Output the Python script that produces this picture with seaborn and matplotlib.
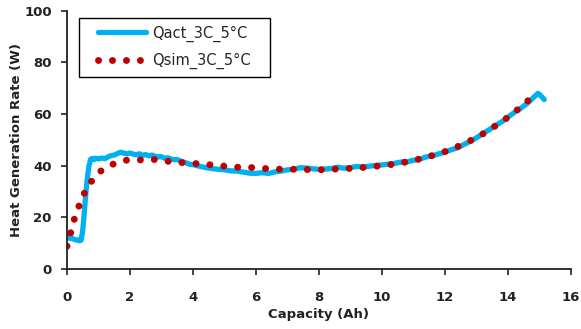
import matplotlib
matplotlib.use("Agg")
import matplotlib.pyplot as plt
from matplotlib.patches import Rectangle
import seaborn as sns
import pandas as pd

# Measured heat generation (Qact_3C_5°C)
cap_act = [0.00, 0.05, 0.10, 0.15, 0.20, 0.25, 0.30, 0.35, 0.40, 0.45, 0.50, 0.55, 0.60, 0.65,
           0.70, 0.75, 0.80, 0.85, 0.90, 1.00, 1.10, 1.20, 1.30, 1.40, 1.50, 1.60, 1.70, 1.80,
           1.90, 2.00, 2.10, 2.20, 2.30, 2.40, 2.50, 2.60, 2.70, 2.80, 2.90, 3.00, 3.10, 3.20,
           3.30, 3.40, 3.50, 3.60, 3.70, 3.80, 3.90, 4.00, 4.20, 4.40, 4.60, 4.80, 5.00, 5.20,
           5.40, 5.60, 5.80, 6.00, 6.20, 6.40, 6.60, 6.80, 7.00, 7.20, 7.40, 7.60, 7.80, 8.00,
           8.20, 8.40, 8.60, 8.80, 9.00, 9.20, 9.40, 9.60, 9.80, 10.00, 10.20, 10.40, 10.60,
           10.80, 11.00, 11.20, 11.40, 11.60, 11.80, 12.00, 12.20, 12.40, 12.60, 12.80, 13.00,
           13.20, 13.40, 13.60, 13.80, 14.00, 14.20, 14.40, 14.60, 14.80, 14.90, 14.95, 15.00,
           15.05, 15.10, 15.15]
q_act = [12.0, 12.3, 11.8, 12.1, 11.6, 11.4, 11.2, 11.3, 10.9, 11.2, 15.0, 22.0, 29.5, 35.5,
         40.0, 42.5, 42.8, 42.3, 42.9, 42.6, 43.0, 42.7, 43.4, 43.9, 44.1, 44.7, 45.2, 44.9,
         44.6, 44.9, 44.5, 44.2, 44.6, 44.0, 44.3, 43.8, 44.1, 43.6, 43.4, 43.5, 42.9, 43.1,
         42.6, 42.3, 42.4, 41.8, 41.4, 41.0, 40.5, 40.4, 39.8, 39.3, 38.9, 38.6, 38.4, 38.0,
         37.9, 37.5, 37.1, 37.0, 37.3, 37.0, 37.6, 37.9, 38.4, 38.6, 39.2, 39.1, 38.8, 38.6,
         38.7, 38.9, 39.4, 39.0, 39.3, 39.7, 39.5, 39.8, 40.1, 40.3, 40.6, 40.9, 41.4, 41.5,
         42.1, 42.5, 43.4, 43.8, 44.6, 45.2, 46.2, 46.9, 48.2, 49.4, 50.8, 52.4, 53.9, 55.5,
         57.0, 58.8, 60.6, 62.2, 64.0, 66.3, 67.4, 68.0, 67.6, 66.9, 66.3, 65.6]

# Simulated heat generation (Qsim_3C_5°C)
cap_sim = [0.00, 0.12, 0.23, 0.38, 0.55, 0.78, 1.07, 1.44, 1.86, 2.28, 2.70, 3.12, 3.55,
           4.00, 4.43, 4.86, 5.28, 5.72, 6.15, 6.58, 7.03, 7.46, 7.90, 8.35, 8.77, 9.22,
           9.65, 10.10, 10.54, 10.97, 11.42, 11.84, 12.24, 12.67, 13.06, 13.43, 13.80,
           14.17, 14.50, 14.85]
q_sim = [8.8, 14.1, 19.2, 24.4, 29.3, 34.0, 37.9, 40.5, 42.1, 42.2, 42.5, 41.8, 41.3,
         40.9, 40.5, 40.0, 39.4, 39.4, 39.0, 38.7, 38.6, 38.6, 38.3, 38.6, 38.8, 39.1,
         39.6, 40.1, 40.9, 41.9, 43.3, 44.8, 46.5, 48.9, 51.2, 54.1, 57.0, 60.3, 63.8, 67.4]

x_ticks = [0, 2, 4, 6, 8, 10, 12, 14, 16]
y_ticks = [0, 20, 40, 60, 80, 100]

sns.set_theme(style="ticks")
plt.rcParams['font.family'] = ['DejaVu Sans']

df_act = pd.DataFrame({"cap": cap_act, "q": q_act})
df_sim = pd.DataFrame({"cap": cap_sim, "q": q_sim})

fig = plt.figure(figsize=(5.81, 3.29), dpi=100)
ax = fig.add_axes([0.1153, 0.1824, 0.8675, 0.785])

sns.lineplot(data=df_act, x="cap", y="q", ax=ax, color="#00B0F0", lw=3.8,
             label="Qact_3C_5°C", sort=False, solid_joinstyle="round")
lw_sim = 5.0
sns.lineplot(data=df_sim, x="cap", y="q", ax=ax, color="#C00000", lw=lw_sim,
             linestyle=(0, (0.01, 2.0)), dash_capstyle="round",
             label="Qsim_3C_5°C", sort=False)

ax.set_xlim(0, 16)
ax.set_ylim(0, 100)
ax.set_xticks(x_ticks)
ax.set_yticks(y_ticks)
ax.tick_params(axis="both", direction="out", length=4, width=1.2, color="#222222",
               labelsize=9.5)
ax.tick_params(axis="x", pad=11.5)
ax.tick_params(axis="y", pad=7)
for lab in ax.get_xticklabels() + ax.get_yticklabels():
    lab.set_fontweight("bold")
    lab.set_color("#222222")
for s in ["top", "right"]:
    ax.spines[s].set_visible(False)
for s in ["left", "bottom"]:
    ax.spines[s].set_linewidth(1.3)
    ax.spines[s].set_color("#222222")

ax.set_xlabel("Capacity (Ah)", fontsize=9.5, fontweight="bold", color="#222222")
ax.set_ylabel("Heat Generation Rate (W)", fontsize=9.5, fontweight="bold", color="#222222")
ax.xaxis.set_label_coords(0.5, -0.151)
ax.yaxis.set_label_coords(-0.0873, 0.5)

leg = ax.legend(loc="upper left", bbox_to_anchor=(0.0476, 0.9717), borderaxespad=0,
                fontsize=10.5, handlelength=3.3, handletextpad=0.4, borderpad=0.5,
                labelspacing=0.8, frameon=False)

# frame around the legend, with extra horizontal padding
fig.canvas.draw()
bb = leg.get_window_extent().transformed(ax.transAxes.inverted())
padx = 12 / (ax.get_window_extent().width)
rect = Rectangle((bb.x0 - padx, bb.y0), bb.width + 2 * padx, bb.height,
                 transform=ax.transAxes, fill=False, edgecolor="black", lw=1.0,
                 zorder=5, clip_on=False)
ax.add_patch(rect)

fig.savefig("out.png", dpi=100)
